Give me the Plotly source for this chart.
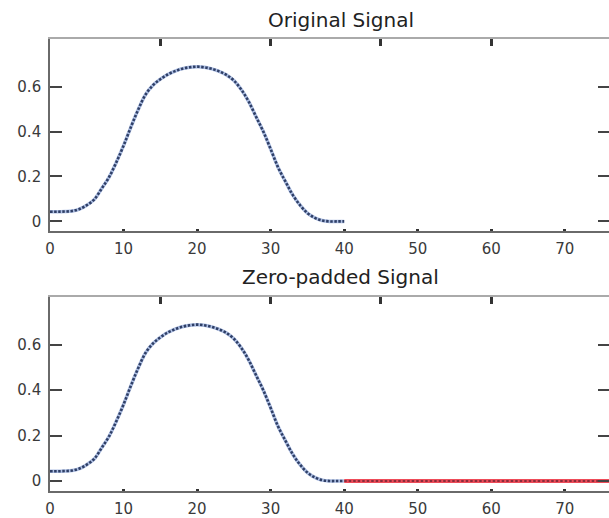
import plotly.graph_objects as go

# ---- data ----
sample_index = list(range(0, 41))
signal_values = [0.043, 0.043, 0.044, 0.046, 0.055, 0.072, 0.097, 0.145, 0.195, 0.262,
                 0.337, 0.420, 0.498, 0.565, 0.606, 0.633, 0.654, 0.669, 0.680, 0.686,
                 0.689, 0.686, 0.679, 0.668, 0.652, 0.627, 0.587, 0.534, 0.467, 0.400,
                 0.322, 0.241, 0.178, 0.118, 0.072, 0.037, 0.016, 0.004, 0.0, 0.0, 0.0]
pad_index = list(range(40, 77))
pad_values = [0.0] * len(pad_index)

titles = ["Original Signal", "Zero-padded Signal"]
x_tick_vals = [0, 10, 20, 30, 40, 50, 60, 70]
top_tick_vals = [15, 30, 45, 60]
y_tick_vals = [0, 0.2, 0.4, 0.6, 1]
y_tick_text = ["0", "0.2", "0.4", "0.6", "1"]

X_RANGE = [0, 76]
Y_RANGE = [-0.044, 0.812]
FONT = "DejaVu Sans"
HALO = "rgba(110,140,205,0.55)"
DOT = "#2f3f66"

fig = go.Figure()

def add_signal(xa, ya):
    fig.add_trace(go.Scatter(x=sample_index, y=signal_values, mode="lines",
                             line=dict(color=HALO, width=3.5, shape="spline"),
                             xaxis=xa, yaxis=ya, showlegend=False, hoverinfo="skip"))
    fig.add_trace(go.Scatter(x=sample_index, y=signal_values, mode="lines",
                             line=dict(color=DOT, width=2.6, dash="2.5px,1.6px", shape="spline"),
                             xaxis=xa, yaxis=ya, showlegend=False))

def add_ghost(xa, ya):
    fig.add_trace(go.Scatter(x=sample_index, y=signal_values, mode="lines", opacity=0,
                             xaxis=xa, yaxis=ya, showlegend=False, hoverinfo="skip"))

# subplot 1
add_signal("x", "y")
# subplot 2
add_signal("x2", "y2")
fig.add_trace(go.Scatter(x=pad_index, y=pad_values, mode="lines",
                         line=dict(color="rgba(235,45,60,0.85)", width=4),
                         xaxis="x2", yaxis="y2", showlegend=False, hoverinfo="skip"))
fig.add_trace(go.Scatter(x=pad_index, y=pad_values, mode="lines",
                         line=dict(color="#6a2232", width=1.6, dash="2.5px,2px"),
                         xaxis="x2", yaxis="y2", showlegend=False))
# invisible traces for the mirrored tick axes
add_ghost("x3", "y")
add_ghost("x4", "y2")
add_ghost("x", "y3")
add_ghost("x2", "y4")

dom1 = [0.5746, 1.0]
dom2 = [0.0, 0.4298]

tickfont = dict(family=FONT, size=15, color="#3a3a3a")
xbase = dict(range=X_RANGE, tickvals=x_tick_vals, ticks="inside", ticklen=2, tickwidth=2.5,
             tickcolor="#333", showline=True, linecolor="#6a6a6a", linewidth=1.6,
             showgrid=False, zeroline=False, tickfont=tickfont, ticklabelstandoff=3)
ybase = dict(range=Y_RANGE, tickvals=y_tick_vals, ticktext=y_tick_text, ticks="inside",
             ticklen=12, tickwidth=2, tickcolor="#444", showline=True, linecolor="#6a6a6a",
             linewidth=1.6, showgrid=False, zeroline=False, tickfont=tickfont,
             ticklabelstandoff=4)
yright = dict(range=Y_RANGE, tickvals=y_tick_vals, ticks="inside", ticklen=11, tickwidth=2,
              tickcolor="#444", showline=False, showticklabels=False, showgrid=False,
              zeroline=False, side="right")
xtop = dict(range=X_RANGE, tickvals=top_tick_vals, ticks="inside", ticklen=7, tickwidth=2.5,
            tickcolor="#333", showline=True, linecolor="#aaaaaa", linewidth=1.6,
            showticklabels=False, showgrid=False, zeroline=False, side="top")

fig.update_layout(
    width=609, height=518,
    margin=dict(l=50, r=0, t=39, b=23),
    paper_bgcolor="white", plot_bgcolor="white",
    xaxis=dict(**xbase, domain=[0, 1], anchor="y"),
    yaxis=dict(**ybase, domain=dom1, anchor="x"),
    xaxis2=dict(**xbase, domain=[0, 1], anchor="y2"),
    yaxis2=dict(**ybase, domain=dom2, anchor="x2"),
    xaxis3=dict(**xtop, overlaying="x", anchor="y"),
    xaxis4=dict(**xtop, overlaying="x2", anchor="y2"),
    yaxis3=dict(**yright, overlaying="y", anchor="x"),
    yaxis4=dict(**yright, overlaying="y2", anchor="x2"),
    annotations=[
        dict(text=titles[0], x=0.52, y=dom1[1], xref="paper", yref="paper",
             yanchor="bottom", yshift=5, showarrow=False,
             font=dict(family=FONT, size=20, color="#222")),
        dict(text=titles[1], x=0.52, y=dom2[1], xref="paper", yref="paper",
             yanchor="bottom", yshift=6, showarrow=False,
             font=dict(family=FONT, size=20, color="#222")),
    ],
)

fig.write_html("out.html")
